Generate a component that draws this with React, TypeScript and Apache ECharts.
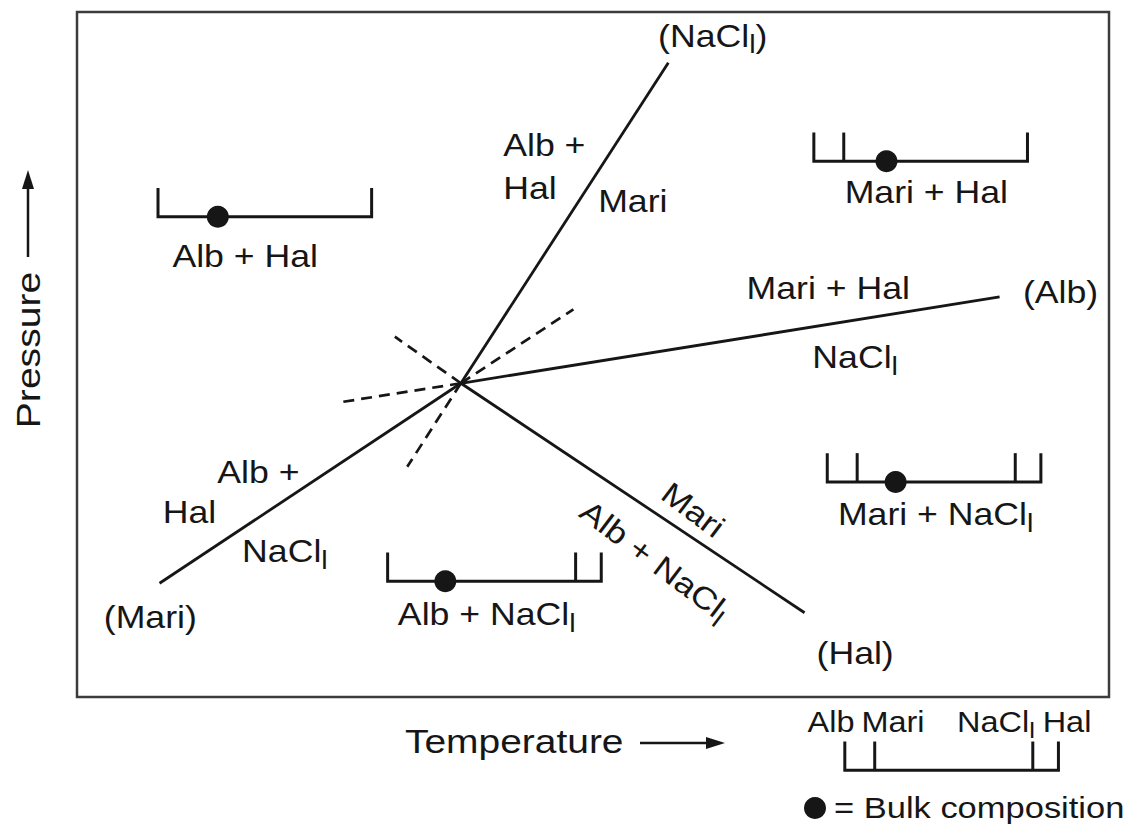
import React, { useEffect, useRef } from 'react';
import * as echarts from 'echarts';

// ---- Data (arbitrary temperature / pressure units, 0..100) ----
const tempRange = [0, 100];
const presRange = [0, 100];

// Invariant point
const invariantPoint = [37.2, 45.8];
// Univariant reactions, named by the absent phase: (NaCl_l), (Alb), (Mari), (Hal)
const stableEnd = [[57.3, 92.6], [89.4, 58.4], [8.0, 16.6], [70.5, 12.3]];
// Metastable extensions (dashed) of the same reactions
const metastableEnd = [[32.0, 33.6], [25.8, 43.1], [48.1, 56.6], [30.8, 52.6]];

// Composition bar: phases and their positions along it
const phaseNames = ['Alb', 'Mari', 'NaCl{s|l}', 'Hal'];
const phaseComposition = [0, 0.14, 0.88, 1];
// Composition bars (last one is the key under the diagram)
const barLeft = [7.85, 71.4, 72.7, 30.1, 74.4];
const barBase = [70.1, 78.2, 31.4, 16.9, -10.7];
const barPhases = [[0, 3], [0, 1, 3], [0, 1, 2, 3], [0, 2, 3], [0, 1, 2, 3]];
const bulkComposition = [0.28, 0.34, 0.32, 0.27, -1];

// Field / curve labels
const labelText = [
  '(NaCl{s|l})', 'Alb +', 'Hal', 'Mari', 'Alb + Hal', 'Mari + Hal', 'Mari + Hal',
  'NaCl{s|l}', '(Alb)', 'Alb +', 'Hal', 'NaCl{s|l}', '(Mari)', 'Alb + NaCl{s|l}',
  'Mari', 'Alb + NaCl{s|l}', '(Hal)', 'Mari + NaCl{s|l}',
];
const labelT = [61.6, 41.3, 41.3, 50.5, 16.3, 82.3, 72.8, 75.4, 95.3, 13.6, 8.3, 16.0, 7.1, 39.7, 59.7, 56.0, 75.4, 83.2];
const labelP = [96.5, 80.6, 74.3, 72.3, 64.4, 73.7, 59.6, 49.6, 59.1, 32.8, 27.0, 21.2, 11.7, 12.0, 27.3, 19.9, 6.4, 26.6];
const labelAngle = [0, 0, 0, 0, 0, 0, 0, 0, 0, 0, 0, 0, 0, 0, -37, -37, 0, 0];
const labelAnchor = ['center', 'left', 'left', 'left', 'center', 'center', 'center', 'center', 'center',
  'left', 'left', 'left', 'center', 'center', 'center', 'center', 'center', 'center'];

const xTitle = 'Temperature';
const yTitle = 'Pressure';
const keyText = '= Bulk composition';

export default function App() {
  const ref = useRef<HTMLDivElement>(null);

  useEffect(() => {
    if (!ref.current) return;
    const chart = echarts.init(ref.current, null, { renderer: 'svg' });
    const FONT = '"Liberation Sans", Arial, Helvetica, sans-serif';
    const SX = 1.15;
    const ink = '#161616';
    const BAR_W = 20.7;
    const TICK_H = 4.2;
    const rich = (size: number, drop: number) => ({
      s: {
        fontSize: size, fontFamily: FONT, fill: ink, verticalAlign: 'top',
        lineHeight: size, padding: [drop, 0, 0, 0],
      },
    });

    const series: any[] = [];
    stableEnd.forEach((e) => {
      series.push({
        type: 'line', data: [invariantPoint, e], symbol: 'none', silent: true,
        lineStyle: { color: ink, width: 2.8 }, z: 3,
      });
    });
    metastableEnd.forEach((e) => {
      series.push({
        type: 'line', data: [invariantPoint, e], symbol: 'none', silent: true,
        lineStyle: { color: ink, width: 2.7, type: [11, 7] }, z: 3,
      });
    });

    series.push({
      type: 'custom', coordinateSystem: 'cartesian2d', clip: false, silent: true, z: 4,
      data: barLeft.map((x, i) => [x, barBase[i], i]),
      renderItem: (params: any, api: any) => {
        const i = api.value(2);
        const x0 = api.value(0);
        const y0 = api.value(1);
        const pt = (c: number, dy = 0) => api.coord([x0 + c * BAR_W, y0 + dy]);
        const children: any[] = [];
        children.push({
          type: 'polyline',
          shape: { points: [pt(0, TICK_H), pt(0), pt(1), pt(1, TICK_H)] },
          style: { stroke: ink, lineWidth: 3, fill: 'none' },
        });
        barPhases[i].forEach((ph) => {
          const c = phaseComposition[ph];
          if (c > 0 && c < 1) {
            const a = pt(c);
            const b = pt(c, TICK_H);
            children.push({
              type: 'line', shape: { x1: a[0], y1: a[1], x2: b[0], y2: b[1] },
              style: { stroke: ink, lineWidth: 3 },
            });
          }
        });
        if (bulkComposition[i] >= 0) {
          const d = pt(bulkComposition[i]);
          children.push({ type: 'circle', shape: { cx: d[0], cy: d[1], r: 11 }, style: { fill: ink } });
        }
        return { type: 'group', children };
      },
    });

    series.push({
      type: 'custom', coordinateSystem: 'cartesian2d', clip: false, silent: true, z: 5,
      data: labelT.map((t, i) => [t, labelP[i], i]),
      renderItem: (params: any, api: any) => {
        const i = api.value(2);
        const p = api.coord([api.value(0), api.value(1)]);
        return {
          type: 'text', x: p[0], y: p[1], rotation: (labelAngle[i] * Math.PI) / 180, scaleX: SX,
          style: {
            text: labelText[i], fontSize: 31, lineHeight: 31, fontFamily: FONT, fill: ink,
            align: labelAnchor[i], textAlign: labelAnchor[i],
            verticalAlign: 'middle', textVerticalAlign: 'middle', rich: rich(25, 12),
          },
        };
      },
    });

    const keyLabelX = [831, 893, 957, 1067];
    const keyLabelAlign = ['center', 'center', 'left', 'center'];

    const graphic: any[] = [
      {
        type: 'text', x: 405, y: 742, scaleX: 1.18,
        style: { text: xTitle, fontSize: 33, fontFamily: FONT, fill: ink, align: 'left', verticalAlign: 'middle' },
      },
      { type: 'line', shape: { x1: 640, y1: 743, x2: 712, y2: 743 }, style: { stroke: ink, lineWidth: 2.5 } },
      { type: 'polygon', shape: { points: [[725, 743], [706, 737], [706, 749]] }, style: { fill: ink } },
      {
        type: 'text', x: 28, y: 350, rotation: Math.PI / 2, scaleX: SX,
        style: { text: yTitle, fontSize: 34, fontFamily: FONT, fill: ink, align: 'center', verticalAlign: 'middle' },
      },
      { type: 'line', shape: { x1: 28, y1: 257, x2: 28, y2: 184 }, style: { stroke: ink, lineWidth: 2.5 } },
      { type: 'polygon', shape: { points: [[28, 170], [22, 189], [34, 189]] }, style: { fill: ink } },
      { type: 'circle', shape: { cx: 815, cy: 808, r: 11 }, style: { fill: ink } },
      {
        type: 'text', x: 834, y: 808, scaleX: 1.15,
        style: { text: keyText, fontSize: 30, fontFamily: FONT, fill: ink, align: 'left', verticalAlign: 'middle' },
      },
    ];
    phaseNames.forEach((n, i) => {
      graphic.push({
        type: 'text', x: keyLabelX[i], y: 722, scaleX: 1.12,
        style: {
          text: n, fontSize: 29, lineHeight: 29, fontFamily: FONT, fill: ink, align: keyLabelAlign[i],
          verticalAlign: 'middle', rich: rich(23, 11),
        },
      });
    });

    chart.setOption({
      animation: false,
      backgroundColor: '#ffffff',
      grid: {
        show: true, left: 77, top: 12, width: 1032, height: 685,
        borderColor: '#3c3c3c', borderWidth: 2.5, backgroundColor: 'transparent',
      },
      xAxis: { type: 'value', min: tempRange[0], max: tempRange[1], show: false },
      yAxis: { type: 'value', min: presRange[0], max: presRange[1], show: false },
      series,
      graphic,
    });

    return () => chart.dispose();
  }, []);

  return (
    <div
      ref={ref}
      style={{ position: 'absolute', left: 0, top: 0, width: 1133, height: 829, background: '#fff' }}
    />
  );
}
